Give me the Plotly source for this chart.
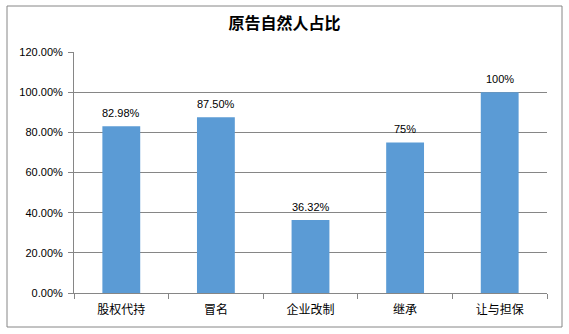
import plotly.graph_objects as go

categories = ["股权代持", "冒名", "企业改制", "继承", "让与担保"]
values = [0.8298, 0.8750, 0.3632, 0.75, 1.00]
labels = ["82.98%", "87.50%", "36.32%", "75%", "100%"]
y_ticks = [0, 0.2, 0.4, 0.6, 0.8, 1.0, 1.2]

num_font = "Liberation Sans, DejaVu Sans, sans-serif"
cjk_font = "Noto Sans CJK SC, sans-serif"

fig = go.Figure(go.Bar(
    x=categories, y=values,
    marker=dict(color="#5B9BD5", line=dict(width=0)),
    hoverinfo="skip",
))

annotations = [
    dict(x=c, y=v, xref="x", yref="y", text=t, showarrow=False,
         yanchor="middle", yshift=13,
         font=dict(family=num_font, size=11, color="#000000"))
    for c, v, t in zip(categories, values, labels)
]

fig.update_layout(
    width=569, height=334,
    margin=dict(l=74, r=22, t=52, b=41),
    paper_bgcolor="white", plot_bgcolor="white",
    bargap=0.6,
    showlegend=False,
    annotations=annotations,
    title=dict(text="<b>原告自然人占比</b>", x=0.5, xref="container", xanchor="center",
               y=1 - 23 / 334, yref="container", yanchor="middle",
               font=dict(family=cjk_font, size=16, color="#000000")),
    xaxis=dict(
        tickfont=dict(family=cjk_font, size=12, color="#000000"),
        showline=True, linecolor="#868686", linewidth=1,
        ticks="outside", ticklen=5, tickcolor="#868686", tickson="boundaries",
        showgrid=False, ticklabelstandoff=6,
    ),
    yaxis=dict(
        range=[0, 1.2], tickvals=y_ticks, tickformat=".2%",
        tickfont=dict(family=num_font, size=11, color="#000000"),
        showline=True, linecolor="#868686", linewidth=1,
        ticks="outside", ticklen=5, tickcolor="#868686",
        showgrid=True, gridcolor="#868686", gridwidth=1,
        zeroline=False, ticklabelstandoff=3,
    ),
    shapes=[dict(type="rect", xref="paper", yref="paper",
                 x0=(7 - 74) / 473, x1=(562 - 74) / 473,
                 y0=(293 - 327) / 241, y1=(293 - 6) / 241,
                 line=dict(color="#868686", width=1))],
)

fig.write_html("out.html")
